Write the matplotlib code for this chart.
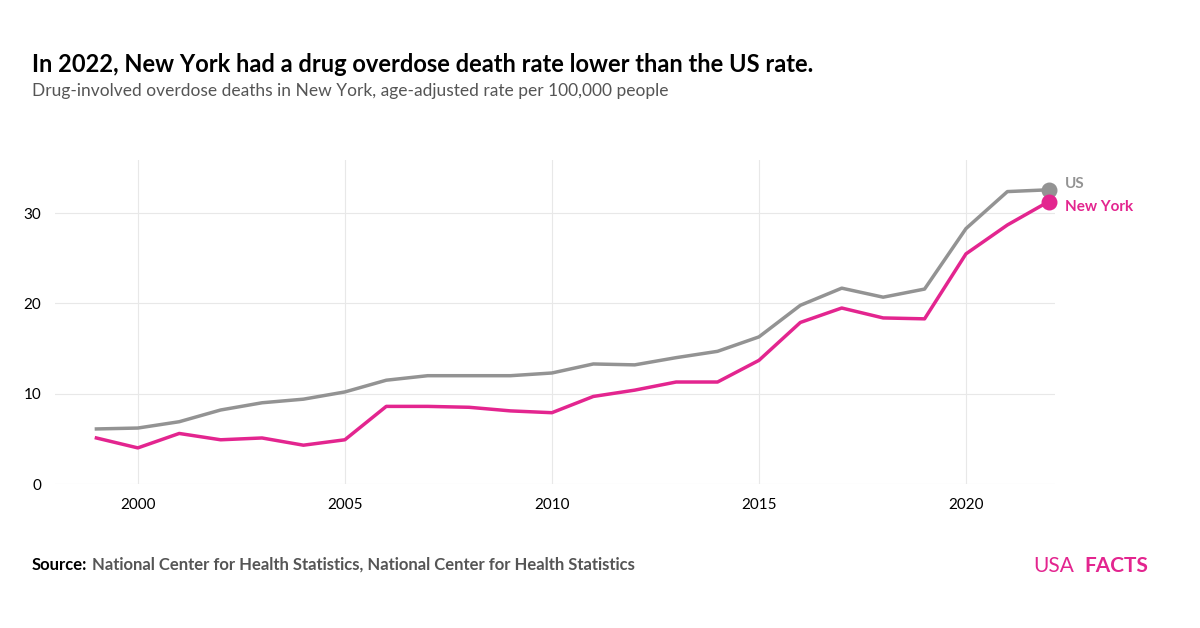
import matplotlib
matplotlib.use("Agg")
import matplotlib.pyplot as plt

plt.rcParams['font.family'] = ['Lato', 'DejaVu Sans']

years = list(range(1999, 2023))
us = [6.1, 6.2, 6.9, 8.2, 9.0, 9.4, 10.2, 11.5, 12.0, 12.0, 12.0, 12.3,
      13.3, 13.2, 14.0, 14.7, 16.3, 19.8, 21.7, 20.7, 21.6, 28.3, 32.4, 32.6]
ny = [5.1, 4.0, 5.6, 4.9, 5.1, 4.3, 4.9, 8.6, 8.6, 8.5, 8.1, 7.9,
      9.7, 10.4, 11.3, 11.3, 13.7, 17.9, 19.5, 18.4, 18.3, 25.5, 28.7, 31.3]

GREY = "#939393"
PINK = "#e3258f"

fig = plt.figure(figsize=(12, 6.28), dpi=100)
ax = fig.add_axes([55/1200, 1-484/628, 1000/1200, 324/628])

ax.plot(years, us, color=GREY, lw=2.5)
ax.plot(years, ny, color=PINK, lw=2.5)
ax.scatter([years[-1]], [us[-1]], color=GREY, s=110, zorder=5, clip_on=False)
ax.scatter([years[-1]], [ny[-1]], color=PINK, s=110, zorder=5, clip_on=False)
ax.text(years[-1] + 0.4, us[-1] + 0.6, "US", color=GREY, fontsize=11, fontweight='bold', va='center')
ax.text(years[-1] + 0.4, ny[-1] - 0.6, "New York", color=PINK, fontsize=11, fontweight='bold', va='center')

ax.set_xlim(1998, 2022.15)
ax.set_ylim(0, 35.9)
ax.set_xticks([2000, 2005, 2010, 2015, 2020])
ax.set_yticks([0, 10, 20, 30])
ax.grid(True, color="#e8e8e8", lw=0.8)
ax.set_axisbelow(True)
for s in ax.spines.values():
    s.set_visible(False)
ax.tick_params(length=0, labelsize=11, pad=10)

fig.text(32/1200, 1-64/628, "In 2022, New York had a drug overdose death rate lower than the US rate.",
         fontsize=17, fontweight='bold', va='center')
fig.text(32/1200, 1-91/628, "Drug-involved overdose deaths in New York, age-adjusted rate per 100,000 people",
         fontsize=12.5, color="#555555", va='center')
fig.text(32/1200, 1-565/628, "Source:", fontsize=12, fontweight='bold', va='center')
fig.text(92/1200, 1-565/628, "National Center for Health Statistics, National Center for Health Statistics",
         fontsize=12, fontweight='bold', color="#555555", va='center')
fig.text(1033/1200, 1-566/628, "USA", fontsize=15, color=PINK, va='center', ha='left')
fig.text(1148/1200, 1-566/628, "FACTS", fontsize=15, fontweight='bold', color=PINK, va='center', ha='right')

fig.savefig("out.png", dpi=100)
